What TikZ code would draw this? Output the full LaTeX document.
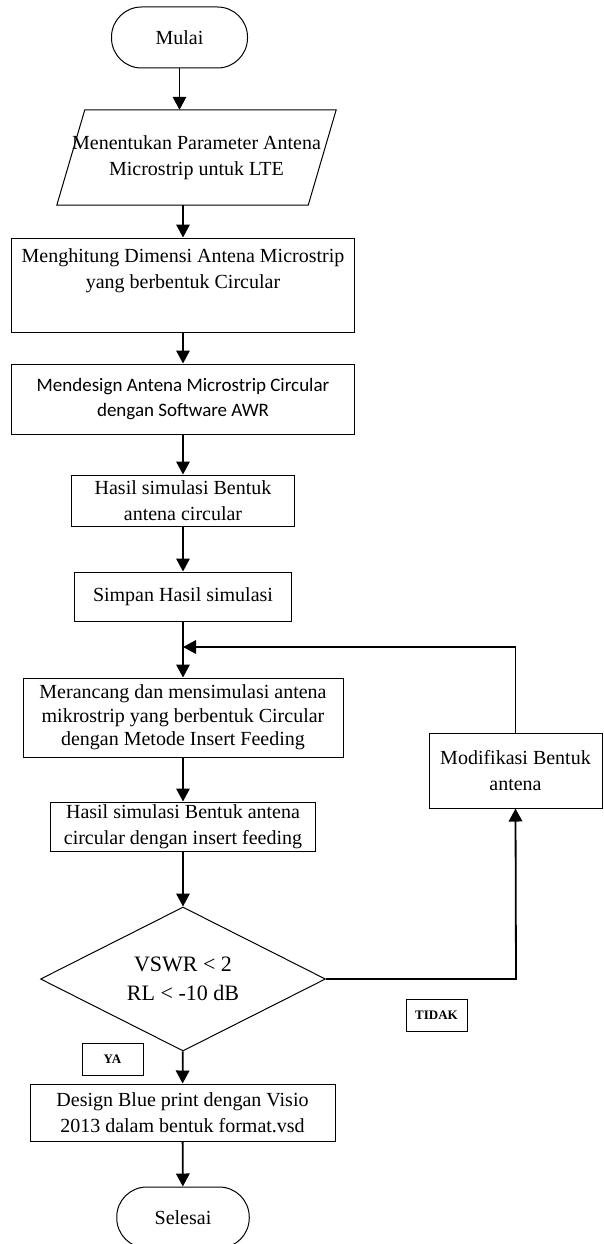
\documentclass[tikz,border=0pt]{standalone}
\usepackage{fontspec}
\setmainfont{Liberation Serif}
\newfontfamily\calibrifont{Carlito}
\usetikzlibrary{shapes.geometric,arrows.meta}

\begin{document}
\begin{tikzpicture}[
		x=1pt,
		y=-1pt,
		every node/.style = {inner sep=0pt, align=center, font=\fontsize{20}{26}\selectfont},
		terminal/.style = {draw, line width=1pt, rounded corners=30pt, minimum width=136pt, minimum height=61pt},
		process/.style = {draw, line width=1pt, rectangle},
		tag/.style = {draw, line width=1pt, minimum width=61pt, minimum height=32pt, font=\fontsize{13}{15}\selectfont\bfseries},
		flow/.style = {line width=1.8pt, -{Triangle[width=13.5pt,length=13pt]}}
	]

		\useasboundingbox (0,0) rectangle (603,1244);

		% Start and input
		\node [terminal] (mulai) at (179.5,37.5) {Mulai};
		\node [minimum width=279pt, minimum height=95pt] (param) at (196.5,157.5) {Menentukan Parameter Antena\\Microstrip untuk LTE};
		\draw [line width=1pt] ([xshift=28pt]param.north west) -- (param.north east) -- ([xshift=-28pt]param.south east) -- (param.south west) -- cycle;

		% Processes
		\node [process, minimum width=342.5pt, minimum height=94pt] (hitung) at (183,285) {Menghitung Dimensi Antena Microstrip\\yang berbentuk Circular\\\strut};
		\node [process, minimum width=342.5pt, minimum height=70pt, font=\calibrifont\fontsize{19}{25.5}\selectfont] (awr) at (183,399) {Mendesign Antena Microstrip Circular\\dengan Software AWR};
		\node [process, minimum width=223pt, minimum height=51pt] (hasil) at (183,500.5) {Hasil simulasi Bentuk\\antena circular};
		\node [process, minimum width=216.5pt, minimum height=49pt] (simpan) at (183,596.5) {Simpan Hasil simulasi};
		\node [process, minimum width=320pt, minimum height=79pt, font=\fontsize{20}{23.5}\selectfont] (rancang) at (183,717.5) {Merancang dan mensimulasi antena\\mikrostrip yang berbentuk Circular\\dengan Metode Insert Feeding};
		\node [process, minimum width=265pt, minimum height=49pt] (hasilins) at (183,826.5) {Hasil simulasi Bentuk antena\\circular dengan insert feeding};

		% Decision
		\node [draw, line width=1pt, diamond, aspect=2, minimum width=285pt, minimum height=144pt, font=\fontsize{22}{29}\selectfont] (cek) at (183,979) {VSWR {\textless} 2\\RL {\textless} -10 dB};
		\node [process, minimum width=173pt, minimum height=75pt] (modif) at (515.5,770.5) {Modifikasi Bentuk\\antena};
		\node [tag] (tidak) at (436.5,1015) {TIDAK};
		\node [tag] (ya) at (112.5,1059) {YA};

		% End
		\node [process, minimum width=305pt, minimum height=57pt] (visio) at (182.5,1112.5) {Design Blue print dengan Visio\\2013 dalam bentuk format.vsd};
		\node [terminal, minimum width=132.5pt] (selesai) at (183,1217.5) {Selesai};

		\coordinate (join) at (183,647);
		\coordinate (belok) at (516,979);

		\draw [flow] (mulai.south) -- (mulai.south |- param.north);
		\draw [flow] (hitung.north |- param.south) -- (hitung.north);
		\draw [flow] (hitung) -- (awr);
		\draw [flow] (awr) -- (hasil);
		\draw [flow] (hasil) -- (simpan);
		\draw [flow] (simpan) -- (rancang);
		\draw [flow] (rancang) -- (hasilins);
		\draw [flow] (hasilins) -- (cek);
		\draw [flow] (cek) -- (visio);
		\draw [flow] (visio) -- (selesai);

		% Loop back
		\draw [flow] (cek.east) -- (belok) -- (modif.south);
		\draw [flow] (modif.north) |- (join);
	\end{tikzpicture}
\end{document}
